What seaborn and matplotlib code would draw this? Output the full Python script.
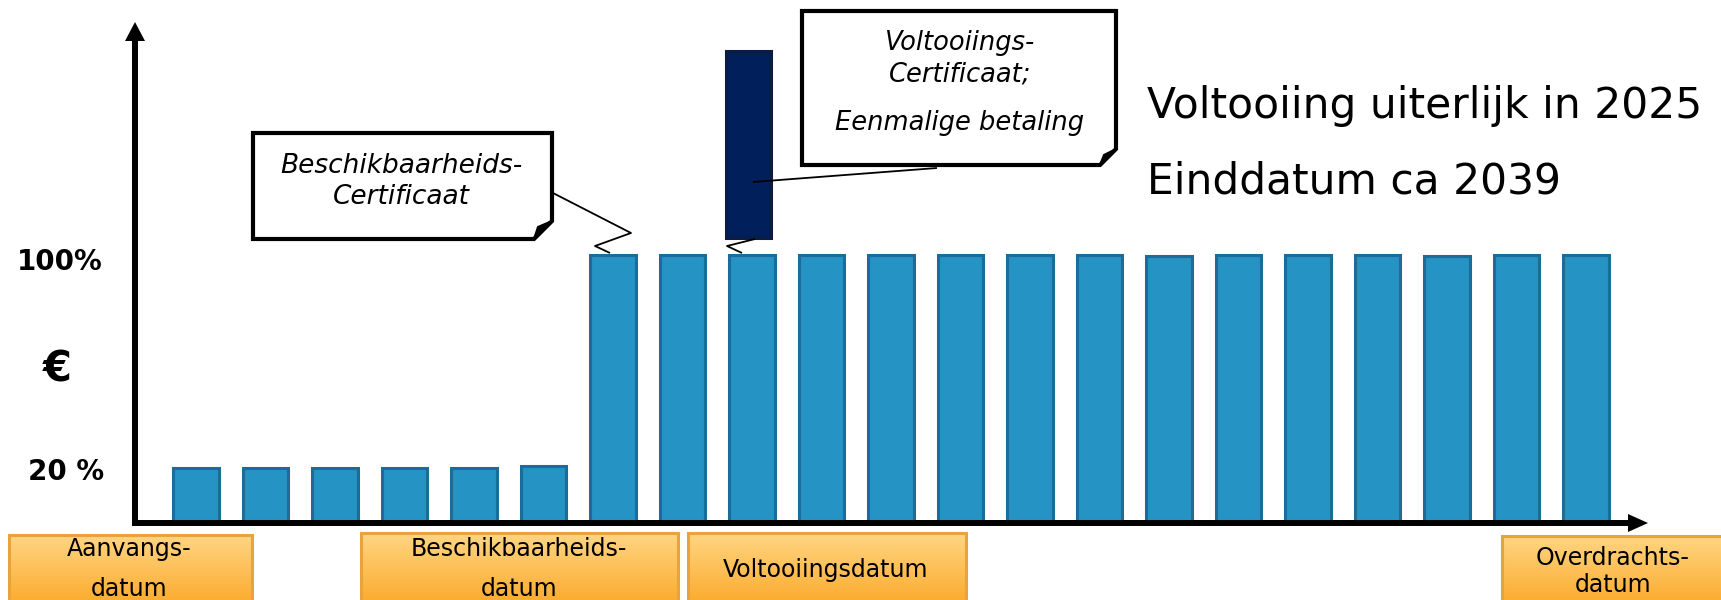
import numpy as np
import pandas as pd
import matplotlib
matplotlib.use("Agg")
import matplotlib.pyplot as plt
import matplotlib.transforms as mtransforms
from matplotlib.patches import Polygon, Rectangle
from matplotlib.lines import Line2D
import seaborn as sns

# ---------------- data ----------------
periods = [f"P{i}" for i in range(1, 22)]
payment_pct = [20, 20, 20, 20, 20, 20.8,
               100, 100, 100, 100, 100, 100, 100, 100, 99.4,
               100, 100, 100, 99.4, 100, 100]
lump_period = "P9"
lump_bottom = 106.2
lump_height = 70.2

y_labels = ["100%", "20 %"]
currency_label = "€"
callout_avail = ["Beschikbaarheids-", "Certificaat"]
callout_compl = ["Voltooiings-", "Certificaat;", "Eenmalige betaling"]
headline = ["Voltooiing uiterlijk in 2025", "Einddatum ca 2039"]
milestones = [["Aanvangs-", "datum"],
              ["Beschikbaarheids-", "datum"],
              ["Voltooiingsdatum"],
              ["Overdrachts-", "datum"]]

# ---------------- styling ----------------
sns.set_style("white")
plt.rcParams["font.family"] = ["DejaVu Sans"]
plt.rcParams["text.color"] = "black"

W, H = 1721, 600
fig = plt.figure(figsize=(W / 100, H / 100), dpi=100)
ax = fig.add_axes([0, 0, 1, 1])

BAR_FILL = "#2593C4"
BAR_EDGE = "#1B6C98"
df = pd.DataFrame({"period": periods, "pct": payment_pct})
sns.barplot(data=df, x="period", y="pct", order=periods, color=BAR_FILL,
            saturation=1, width=0.65, edgecolor=BAR_EDGE, linewidth=2.2,
            errorbar=None, ax=ax, zorder=2)
ax.bar(periods.index(lump_period) - 0.05, lump_height, bottom=lump_bottom,
       width=0.65, color="#001F5B", edgecolor="#0B1C40", linewidth=2.2,
       zorder=3)

ax.set_xlim(-2.820, 21.942)
ax.set_ylim(-29.64, 195.5)
ax.axis("off")

# pixel (top-left origin) transform for decorations
P = mtransforms.Affine2D().scale(1 / W, -1 / H).translate(0, 1) + fig.transFigure


def pline(pts, lw=1.2, color="black", z=5):
    xs, ys = zip(*pts)
    fig.add_artist(Line2D(xs, ys, transform=P, lw=lw, color=color,
                          zorder=z, solid_capstyle="butt"))


def ppoly(pts, fc, ec="black", lw=0, z=5):
    fig.add_artist(Polygon(pts, closed=True, transform=P, facecolor=fc,
                           edgecolor=ec, lw=lw, zorder=z, joinstyle="miter"))


def ptext(x, y, s, **kw):
    fig.text(x / W, 1 - y / H, s, **kw)


# axes with arrows
pline([(135, 526), (135, 38)], lw=4.3)
ppoly([(125, 41), (145, 41), (135, 22)], fc="black")
pline([(132, 523), (1630, 523)], lw=4.3)
ppoly([(1628, 514), (1628, 532), (1648, 523)], fc="black")

# y labels
ptext(60, 262, y_labels[0], fontsize=20, fontweight="bold", ha="center", va="center")
ptext(66, 472, y_labels[1], fontsize=20, fontweight="bold", ha="center", va="center")
ptext(57, 369, currency_label, fontsize=30, fontweight="bold", ha="center", va="center")

# headline texts
ptext(1147, 118, headline[0], fontsize=30.5, ha="left", va="baseline")
ptext(1147, 193, headline[1], fontsize=30.5, ha="left", va="baseline")

# callout boxes with folded corner
def callout(x0, y0, x1, y1, cut):
    ppoly([(x0, y0), (x1, y0), (x1, y1 - cut), (x1 - cut, y1), (x0, y1)],
          fc="white", ec="black", lw=3, z=6)
    ppoly([(x1 - cut, y1), (x1 - cut + 4, y1 - cut + 6), (x1, y1 - cut)],
          fc="black", ec="black", lw=1.5, z=7)


callout(253, 133, 552, 239, 18)
callout(802, 11, 1116, 165, 16)

ptext(401, 173, callout_avail[0], fontsize=19, style="italic", ha="center", va="baseline", zorder=8)
ptext(401, 204, callout_avail[1], fontsize=19, style="italic", ha="center", va="baseline", zorder=8)
ptext(960, 50, callout_compl[0], fontsize=18.5, style="italic", ha="center", va="baseline", zorder=8)
ptext(960, 82, callout_compl[1], fontsize=18.5, style="italic", ha="center", va="baseline", zorder=8)
ptext(960, 130, callout_compl[2], fontsize=18.5, style="italic", ha="center", va="baseline", zorder=8)

# leader lines
pline([(553, 193), (631, 233), (595, 246), (610, 253)], lw=1.3)
pline([(937, 168), (753, 182)], lw=1.3, z=8)
pline([(755, 239), (727, 246), (742, 253)], lw=1.3)

# orange milestone boxes with gradient
grad_top = np.array([255, 213, 130]) / 255
grad_bot = np.array([251, 166, 36]) / 255
boxes = [(9, 535, 252), (361, 533, 678), (688, 533, 966), (1502, 536, 1730)]
text_pos = [(129, [556, 596]), (519, [556, 596]), (826, [577]), (1613, [565, 592])]
for (bx0, by0, bx1), (tx, tys), lines in zip(boxes, text_pos, milestones):
    by1 = 612
    bax = fig.add_axes([bx0 / W, 1 - by1 / H, (bx1 - bx0) / W, (by1 - by0) / H])
    t = np.linspace(0, 1, 64)[:, None]
    img = grad_top[None, None, :] * (1 - t[..., None]) + grad_bot[None, None, :] * t[..., None]
    img = np.repeat(img, 2, axis=1)
    bax.imshow(img, aspect="auto", extent=(0, 1, 0, 1), origin="upper")
    bax.set_xlim(0, 1)
    bax.set_ylim(0, 1)
    bax.axis("off")
    bax.add_patch(Rectangle((0, 0), 1, 1, transform=bax.transAxes, fill=False,
                            edgecolor="#E9A23C", lw=2.2, clip_on=False))
    for s, ty in zip(lines, tys):
        ptext(tx, ty, s, fontsize=17, ha="center", va="baseline", zorder=10)

fig.savefig("out.png", dpi=100)
